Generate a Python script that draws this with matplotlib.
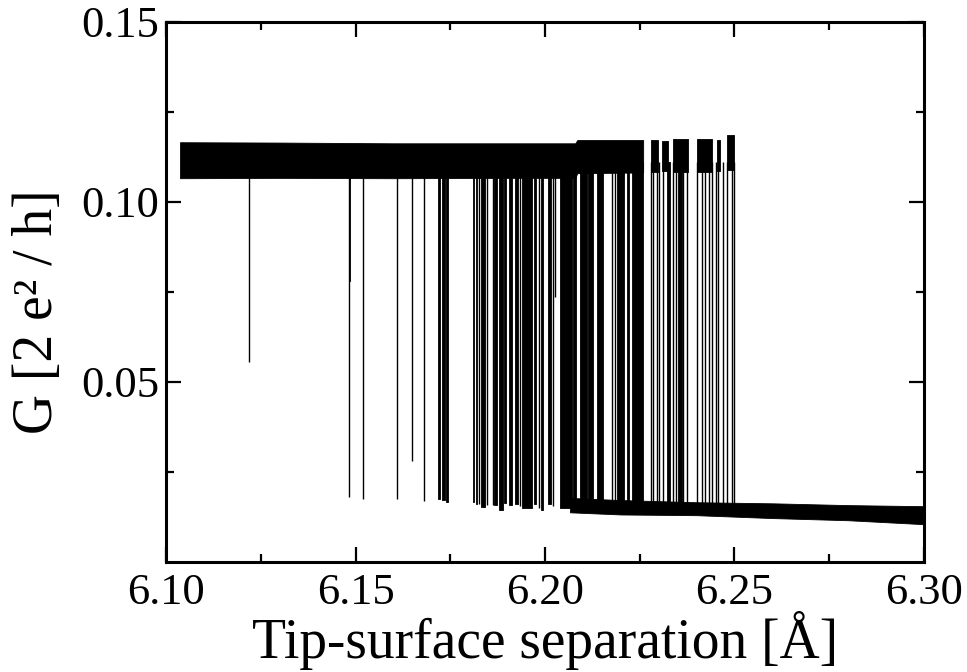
import matplotlib
matplotlib.use("Agg")
import matplotlib.pyplot as plt
import numpy as np

plt.rcParams["font.family"] = ["Liberation Serif", "DejaVu Serif"]

# upper conductance state (continuous part), envelope
upper_x = [6.1037, 6.13, 6.16, 6.19, 6.2080, 6.2085, 6.2259]
upper_top = [0.1166, 0.1165, 0.1163, 0.1163, 0.1163, 0.1172, 0.1172]
upper_bot = [0.1066, 0.1067, 0.1066, 0.1067, 0.1067, 0.1080, 0.1082]

# upper state pieces after the band breaks up
seg_x0 = [6.2280, 6.2308, 6.2338, 6.2400, 6.2453, 6.2479]
seg_x1 = [6.2299, 6.2325, 6.2378, 6.2440, 6.2462, 6.2499]
seg_top = [0.1172, 0.1170, 0.1175, 0.1175, 0.1172, 0.1186]
seg_bot = [0.1084, 0.1086, 0.1084, 0.1084, 0.1086, 0.1090]

# lower conductance state
lower_x = [6.2066, 6.22, 6.24, 6.26, 6.28, 6.30]
lower_top = [0.0178, 0.0172, 0.0166, 0.0163, 0.0158, 0.0155]
lower_bot = [0.0138, 0.0132, 0.0130, 0.0122, 0.0116, 0.0105]

# single switching events: position and lowest conductance reached
spike_x = [6.1218, 6.1484, 6.1521, 6.1610, 6.1649, 6.1680, 6.1826, 6.1848,
           6.1862, 6.1934, 6.1985, 6.2022, 6.2026, 6.2178, 6.2186,
           6.2279, 6.2284, 6.2295, 6.2302, 6.2312, 6.2338, 6.2346, 6.2363,
           6.2374, 6.2402, 6.2413, 6.2422, 6.2434, 6.2440, 6.2451, 6.2457,
           6.2471, 6.2479, 6.2493, 6.2499]
spike_low = [0.0556, 0.0181, 0.0175, 0.0175, 0.0281, 0.0170, 0.0160, 0.0158,
             0.0158, 0.0155, 0.0150, 0.0155, 0.0736, 0.0150, 0.0150,
             0.0150, 0.0150, 0.0150, 0.0150, 0.0150, 0.0150, 0.0150, 0.0150,
             0.0150, 0.0150, 0.0150, 0.0150, 0.0150, 0.0150, 0.0150, 0.0150,
             0.0150, 0.0150, 0.0150, 0.0150]

# dense bursts of switching (drawn solid black)
burst_x0 = [6.1482, 6.1717, 6.1729, 6.1739, 6.1809, 6.1818, 6.1830, 6.1865,
            6.1879, 6.1892, 6.1906, 6.1921, 6.1939, 6.1972, 6.1989, 6.2009,
            6.2040, 6.2075, 6.2092, 6.2114, 6.2136, 6.2191, 6.2216, 6.2229,
            6.2321, 6.2352]
burst_x1 = [6.1486, 6.1723, 6.1736, 6.1743, 6.1813, 6.1821, 6.1842, 6.1873,
            6.1890, 6.1897, 6.1912, 6.1930, 6.1965, 6.1976, 6.1996, 6.2016,
            6.2070, 6.2082, 6.2110, 6.2126, 6.2154, 6.2208, 6.2222, 6.2259,
            6.2330, 6.2361]
burst_low = [0.0780, 0.0175, 0.0172, 0.0168, 0.0168, 0.0161, 0.0152, 0.0158,
             0.0145, 0.0165, 0.0158, 0.0160, 0.0150, 0.0160, 0.0145, 0.0160,
             0.0150, 0.0150, 0.0150, 0.0150, 0.0150, 0.0150, 0.0150, 0.0150,
             0.0150, 0.0150]
switch_top = 0.111

fig = plt.figure(figsize=(9.67, 6.72), dpi=100)
ax = fig.add_axes([0.1717, 0.1637, 0.9555 - 0.1717, 0.9673 - 0.1637])

ax.fill_between(upper_x, upper_bot, upper_top, color="black", lw=0.6, edgecolor="black")
for x0, x1, top, bot in zip(seg_x0, seg_x1, seg_top, seg_bot):
    ax.fill_between([x0, x1], [bot, bot], [top, top], color="black", lw=0.6, edgecolor="black")
ax.fill_between(lower_x, lower_bot, lower_top, color="black", lw=0.6, edgecolor="black")

ax.vlines(spike_x, spike_low, switch_top, color="black", lw=1.0)
for x0, x1, low in zip(burst_x0, burst_x1, burst_low):
    ax.fill_between([x0, x1], [low, low], [switch_top, switch_top], color="black", lw=0.6,
                    edgecolor="black")

ax.set_xlim(6.10, 6.30)
ax.set_ylim(0.0, 0.15)
ax.set_xticks([6.10, 6.15, 6.20, 6.25, 6.30])
ax.set_xticklabels(["6.10", "6.15", "6.20", "6.25", "6.30"])
ax.set_xticks([6.125, 6.175, 6.225, 6.275], minor=True)
ax.set_yticks([0.05, 0.10, 0.15])
ax.set_yticklabels(["0.05", "0.10", "0.15"])
ax.set_yticks([0.025, 0.075, 0.125], minor=True)

ax.tick_params(which="both", direction="in", top=True, right=True, width=1.6,
               labelsize=32, colors="black")
ax.tick_params(which="major", length=11)
ax.tick_params(which="minor", length=6)
ax.tick_params(axis="x", pad=8)
ax.tick_params(axis="y", pad=5)
for sp in ax.spines.values():
    sp.set_linewidth(2.2)

ax.set_xlabel("Tip-surface separation [Å]", fontsize=40)
ax.set_ylabel("G [2 e² / h]", fontsize=40)
ax.xaxis.set_label_coords(0.5, -0.09)
ax.yaxis.set_label_coords(-0.135, 0.463)

fig.savefig("out.png", dpi=100)
